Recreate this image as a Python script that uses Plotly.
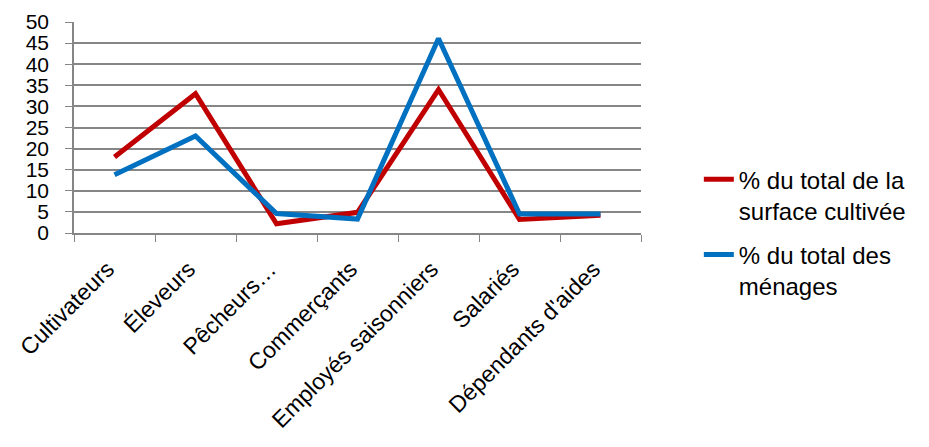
import plotly.graph_objects as go

categories = ["Cultivateurs", "Éleveurs", "Pêcheurs…", "Commerçants",
              "Employés saisonniers", "Salariés", "Dépendants d'aides"]
surface = [18, 33, 2.2, 4.9, 34, 3.2, 4.2]
menages = [13.8, 23, 4.6, 3.3, 46.1, 4.5, 4.5]

fig = go.Figure()
fig.add_trace(go.Scatter(x=categories, y=surface, mode="lines",
                         name="% du total de la<br>surface cultivée",
                         legendgroup="a",
                         line=dict(color="#C00000", width=5)))
fig.add_trace(go.Scatter(x=categories, y=menages, mode="lines",
                         name="% du total des<br>ménages",
                         legendgroup="b",
                         line=dict(color="#0070C0", width=5)))

# the page body adds 8px, so margins are shifted to compensate
fig.update_layout(
    width=929, height=447,
    margin=dict(l=66, r=296, t=14, b=222),
    paper_bgcolor="white", plot_bgcolor="white",
    font=dict(family="Liberation Sans, Arial, sans-serif", size=23, color="black"),
    legend=dict(x=1.102, y=0.36, xanchor="left", yanchor="top",
                valign="top", traceorder="grouped", tracegroupgap=10,
                font=dict(size=24)),
)
fig.update_xaxes(
    range=[-0.5, len(categories) - 0.5],
    tickangle=-45, tickson="boundaries", ticks="outside", ticklen=7,
    tickcolor="#868686", showline=True, linecolor="#868686", linewidth=1.5,
    showgrid=False, tickfont=dict(size=23), automargin=False,
    ticklabelshift=-7, ticklabelstandoff=12,
)
fig.update_yaxes(
    range=[0, 50], dtick=5, ticks="outside", ticklen=7, tickcolor="#868686",
    showline=True, linecolor="#868686", linewidth=1.5,
    gridcolor="#868686", gridwidth=1.5, zeroline=False,
    tickfont=dict(size=21), ticklabelstandoff=12, automargin=False,
)

fig.write_html("out.html")
